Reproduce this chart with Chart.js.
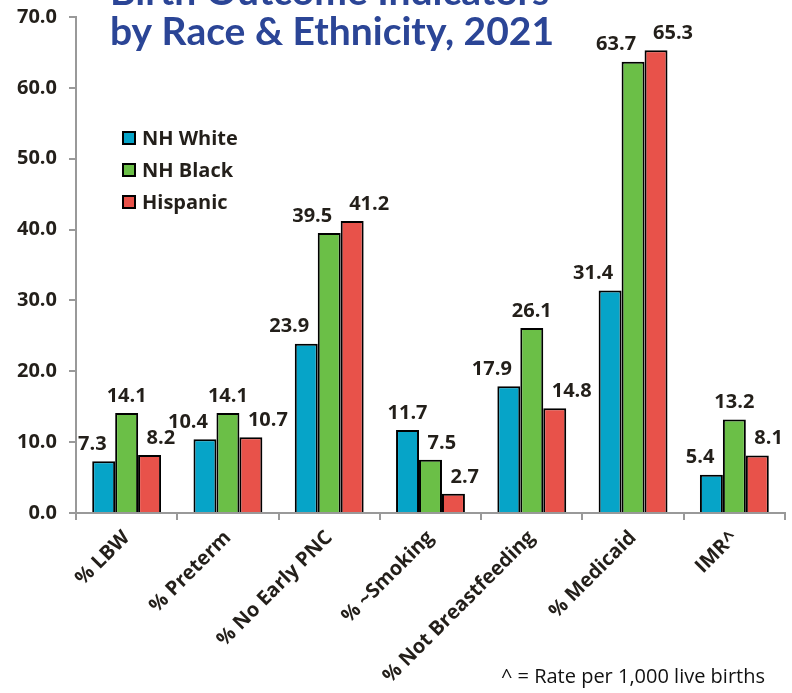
<!DOCTYPE html>
<html>
<head>
<meta charset="utf-8">
<script src="https://cdn.jsdelivr.net/npm/chart.js@4.4.0/dist/chart.umd.min.js"></script>
<style>
  body { margin: 0; background: #fff; }
  #wrap { width: 792px; height: 693px; }
</style>
</head>
<body>
<div id="wrap"><canvas id="graph" width="792" height="693"></canvas></div>
<script>
// chart data
var categories = ['% LBW', '% Preterm', '% No Early PNC', '% ~Smoking', '% Not Breastfeeding', '% Medicaid', 'IMR^'];
var nhWhite  = [7.3, 10.4, 23.9, 11.7, 17.9, 31.4, 5.4];
var nhBlack  = [14.1, 14.1, 39.5, 7.5, 26.1, 63.7, 13.2];
var hispanic = [8.2, 10.7, 41.2, 2.7, 14.8, 65.3, 8.1];
var seriesNames = ['NH White', 'NH Black', 'Hispanic'];
var yTicks = [0, 10, 20, 30, 40, 50, 60, 70];

var textColor = '#231f1a';
var colors = ['#06a4c8', '#6bbf47', '#e8524a'];

// title, legend, value labels and footnote drawn on top
var overlay = {
    id: 'overlay',
    afterDatasetsDraw: function (chart) {
        var ctx = chart.ctx;
        var sets = chart.data.datasets;
        ctx.save();

        // value labels above bars, pushed sideways away from a taller neighbour
        ctx.font = 'bold 20px "Open Sans"';
        ctx.fillStyle = textColor;
        ctx.textAlign = 'center';
        ctx.textBaseline = 'bottom';
        sets.forEach(function (ds, di) {
            var meta = chart.getDatasetMeta(di);
            meta.data.forEach(function (bar, i) {
                var v = ds.data[i];
                var txt = v.toFixed(1);
                var w = ctx.measureText(txt).width;
                var dir = 0;
                if (di === 0 && sets[1].data[i] > v) dir = -1;
                if (di === 1 && sets[2].data[i] > v) dir = -1;
                if (di === 1 && sets[0].data[i] > v && sets[2].data[i] < v) dir = 1;
                if (di === 2 && sets[1].data[i] > v - 3) dir = 1;
                ctx.fillText(txt, bar.x + dir * (w / 2 - 3), bar.y - 7);
            });
        });

        // title (first line runs off the top edge)
        ctx.font = 'bold 39px Lato';
        ctx.fillStyle = '#2b4596';
        ctx.textAlign = 'left';
        ctx.textBaseline = 'alphabetic';
        ctx.fillText('Birth Outcome Indicators', 110, 5);
        ctx.fillText('by Race & Ethnicity, 2021', 110, 45);

        // legend inside the plot
        ctx.font = 'bold 20px "Open Sans"';
        ctx.textBaseline = 'middle';
        sets.forEach(function (ds, di) {
            var y = 138 + di * 32;
            ctx.fillStyle = ds.backgroundColor;
            ctx.fillRect(123, y - 6, 12, 12);
            ctx.strokeStyle = '#000';
            ctx.lineWidth = 2;
            ctx.strokeRect(123, y - 6, 12, 12);
            ctx.fillStyle = textColor;
            ctx.fillText(ds.label, 142, y + 1);
        });

        // footnote
        ctx.font = '20px "Open Sans"';
        ctx.fillStyle = '#111';
        ctx.textAlign = 'right';
        ctx.fillText('^ = Rate per 1,000 live births', 765, 677);
        ctx.restore();
    }
};

var canvas = document.getElementById('graph');
var values = [nhWhite, nhBlack, hispanic];

var chart = new Chart(canvas, {
    type: 'bar',
    data: {
        labels: categories,
        datasets: values.map(function (arr, i) {
            return {
                label: seriesNames[i],
                data: arr,
                backgroundColor: colors[i],
                borderColor: '#000',
                borderWidth: 2,
                borderSkipped: 'bottom'
            };
        })
    },
    options: {
        responsive: false,
        animation: false,
        layout: { padding: { top: 17, right: 7, left: 0, bottom: 0 } },
        datasets: { bar: { categoryPercentage: 0.68, barPercentage: 1.0 } },
        plugins: {
            legend: { display: false },
            title: { display: false },
            tooltip: { enabled: false }
        },
        scales: {
            x: {
                grid: { drawOnChartArea: false, color: '#999', lineWidth: 2, tickLength: 7, offset: true },
                border: { color: '#999', width: 2 },
                ticks: {
                    color: textColor,
                    font: { family: '"Open Sans"', size: 20, weight: 'bold' },
                    minRotation: 45,
                    maxRotation: 45,
                    padding: 6
                },
                afterFit: function (scale) {
                    scale.height = 180;
                    scale.paddingLeft = 0;
                    scale.paddingRight = 0;
                }
            },
            y: {
                min: 0,
                max: 70,
                afterBuildTicks: function (scale) {
                    scale.ticks = yTicks.map(function (v) { return { value: v }; });
                },
                grid: { drawOnChartArea: false, color: '#999', lineWidth: 2, tickLength: 7 },
                border: { color: '#999', width: 2 },
                ticks: {
                    color: textColor,
                    font: { family: '"Open Sans"', size: 20, weight: 'bold' },
                    padding: 12,
                    callback: function (v) { return Number(v).toFixed(1); }
                },
                afterFit: function (scale) {
                    scale.width = 76;
                    scale.paddingTop = 0;
                    scale.paddingBottom = 0;
                }
            }
        }
    },
    plugins: [overlay]
});
</script>
</body>
</html>
